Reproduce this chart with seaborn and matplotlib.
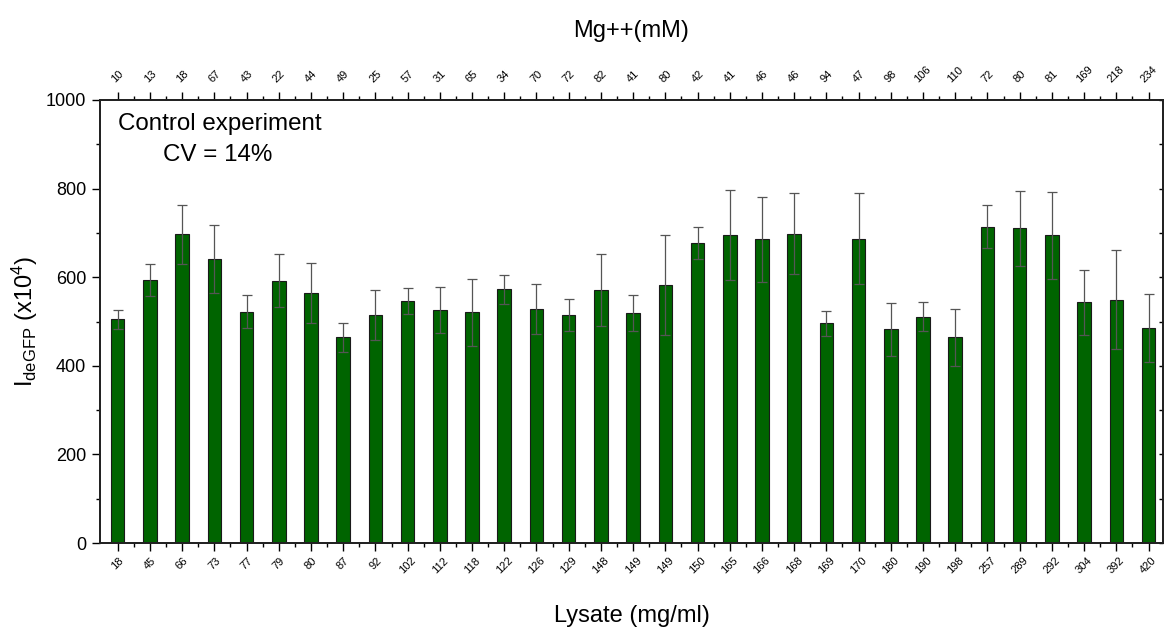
import numpy as np
import pandas as pd
import matplotlib
matplotlib.use("Agg")
import matplotlib.pyplot as plt
import seaborn as sns
from matplotlib.ticker import FixedLocator, MultipleLocator

# ---------------- data ----------------
lysate_labels = ["18", "45", "66", "73", "77", "79", "80", "87", "92", "102", "112",
                 "118", "122", "126", "129", "148", "149", "149", "150", "165", "166",
                 "168", "169", "170", "180", "190", "198", "257", "289", "292", "304",
                 "392", "420"]
mg_labels = ["10", "13", "18", "67", "43", "22", "44", "49", "25", "57", "31",
             "65", "34", "70", "72", "82", "41", "80", "42", "41", "46",
             "46", "94", "47", "98", "106", "110", "72", "80", "81", "169",
             "218", "234"]
intensity = [505, 594, 697, 641, 522, 592, 565, 464, 514, 547, 526,
             521, 573, 528, 515, 571, 519, 582, 677, 695, 686,
             698, 496, 687, 482, 511, 464, 714, 710, 695, 543,
             549, 485]
err = [22, 36, 67, 76, 37, 60, 68, 32, 56, 29, 53,
       76, 33, 56, 36, 81, 41, 113, 36, 101, 96,
       91, 28, 103, 60, 32, 65, 49, 85, 98, 73,
       112, 76]

# ---------------- style ----------------
sns.set_theme(style="ticks")
plt.rcParams["font.family"] = ["Liberation Sans", "DejaVu Sans"]
plt.rcParams["mathtext.fontset"] = "custom"
plt.rcParams["mathtext.rm"] = "Liberation Sans"
plt.rcParams["mathtext.it"] = "Liberation Sans:italic"
plt.rcParams["mathtext.bf"] = "Liberation Sans:bold"
for k in ("text.color", "axes.labelcolor", "xtick.color", "ytick.color",
          "xtick.labelcolor", "ytick.labelcolor"):
    plt.rcParams[k] = "black"

W, H = 1165, 632
fig = plt.figure(figsize=(W / 100, H / 100), dpi=100)
ax = fig.add_axes([100 / W, 1 - 543 / H, 1063 / W, 443 / H])

n = len(intensity)
df = pd.DataFrame({"idx": np.arange(n), "val": intensity})
sns.barplot(data=df, x="idx", y="val", color="#006400", saturation=1,
            width=0.42, edgecolor="#1a1a1a", linewidth=0.8, errorbar=None, ax=ax)
ax.errorbar(np.arange(n), intensity, yerr=err, fmt="none", ecolor="#555555",
            elinewidth=0.9, capsize=3.3, capthick=0.9, zorder=3)

xlim = (-0.55, n - 0.55)
ax.set_xlim(*xlim)
ax.set_ylim(0, 1000)

# bottom axis
ax.set_xticks(np.arange(n))
ax.set_xticklabels(lysate_labels, rotation=45, fontsize=8, ha="center")
ax.xaxis.set_minor_locator(FixedLocator(np.arange(n - 1) + 0.5))
ax.tick_params(axis="x", which="major", direction="out", length=6, width=1, pad=3)
ax.tick_params(axis="x", which="minor", direction="out", length=3, width=1, bottom=True)
ax.set_xlabel("Lysate (mg/ml)", fontsize=17, labelpad=21)

# left axis
ax.set_yticks(np.arange(0, 1001, 200))
ax.yaxis.set_minor_locator(MultipleLocator(100))
ax.tick_params(axis="y", which="major", direction="out", length=6, width=1, pad=4, labelsize=13)
ax.tick_params(axis="y", which="minor", direction="out", length=3, width=1, left=True)
ax.set_ylabel(r"I$_{\mathrm{deGFP}}$ (x10$^{4}$)", fontsize=17, labelpad=4)

for s in ax.spines.values():
    s.set_linewidth(1.2)
    s.set_color("#222222")

# top axis
ax2 = ax.twiny()
ax2.set_xlim(*xlim)
ax2.set_xticks(np.arange(n))
ax2.set_xticklabels(mg_labels, rotation=45, fontsize=8, ha="center")
ax2.xaxis.set_minor_locator(FixedLocator(np.arange(n - 1) + 0.5))
ax2.tick_params(axis="x", which="major", direction="out", length=6, width=1, pad=5)
ax2.tick_params(axis="x", which="minor", direction="out", length=3, width=1, top=True)
ax2.set_xlabel("Mg++(mM)", fontsize=17, labelpad=20)

# right axis (inward ticks, no labels)
ax3 = ax.twinx()
ax3.set_ylim(0, 1000)
ax3.set_yticks(np.arange(0, 1001, 100))
ax3.tick_params(axis="y", direction="in", length=3, width=1, labelright=False)
for a in (ax2, ax3):
    for s in a.spines.values():
        s.set_linewidth(1.2)
        s.set_color("#222222")

# annotation
ax.text(0.113, 0.932, "Control experiment", transform=ax.transAxes,
        ha="center", va="baseline", fontsize=17.4)
ax.text(0.111, 0.862, "CV = 14%", transform=ax.transAxes,
        ha="center", va="baseline", fontsize=17.4)

fig.savefig("out.png", dpi=100)
